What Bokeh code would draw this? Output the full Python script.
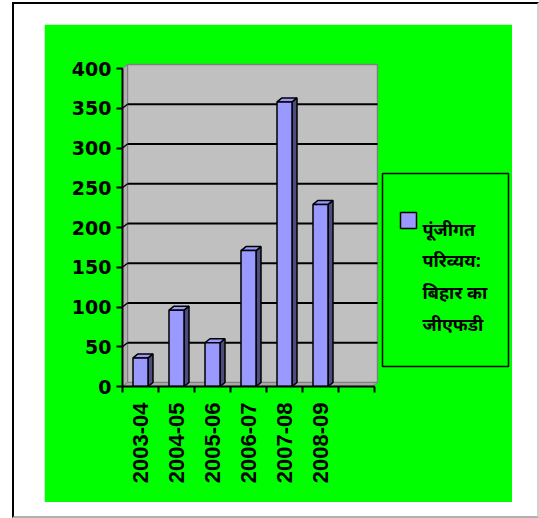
import math
from bokeh.plotting import figure
from bokeh.layouts import column
from bokeh.models import Range1d, FixedTicker
from bokeh.core.properties import value
from bokeh.embed import file_html
from bokeh.resources import INLINE

# Capital outlay as share of Bihar's gross fiscal deficit, by year
years = ["2003-04", "2004-05", "2005-06", "2006-07", "2007-08", "2008-09"]
outlay = [36, 96, 55, 171, 358, 229]
y_ticks = [0, 50, 100, 150, 200, 250, 300, 350, 400]
grid_values = [50, 100, 150, 200, 250, 300, 350]
legend_lines = ["पूंजीगत", "परिव्यय:", "बिहार का", "जीएफडी"]

# page geometry (pixels from the page's top-left corner)
PAGE_W, PAGE_H = 539, 518
GX0, GX1, GY0, GY1 = 44, 512, 24, 502          # green chart area
FRAME_L, FRAME_T, FRAME_R, FRAME_B = 122, 60, 510, 386
WALL_R, WALL_T = 377, 64                         # right and top edges of the plot walls
SLOT_PX = 36.0
UNIT_PX = 0.795

n_slots = len(years) + 1
x_start = 0.5
x_end = x_start + (FRAME_R - FRAME_L) / SLOT_PX
y_end = (FRAME_B - FRAME_T) / UNIT_PX


def dx(px):
    """Page pixel column -> x data coordinate."""
    return x_start + (px - FRAME_L) / SLOT_PX


def dy(py):
    """Page pixel row -> y data coordinate."""
    return (FRAME_B - py) / UNIT_PX


wall_right = dx(WALL_R)
wall_top = dy(WALL_T)

# depth offsets of the pseudo-3D walls and columns, in data units
WALL_DX, WALL_DY = 5 / SLOT_PX, 4 / UNIT_PX
BAR_W = 15 / SLOT_PX
BAR_DX, BAR_DY = 5 / SLOT_PX, 4 / UNIT_PX

GREEN = "#00FF00"
BAR_FRONT = "#9999FF"
BAR_SIDE = "#4D4D80"

p = figure(width=GX1 - GX0, height=GY1 - GY0, output_backend="svg", toolbar_location=None,
           x_range=Range1d(x_start, x_end), y_range=Range1d(0, y_end),
           min_border_left=FRAME_L - GX0, min_border_top=FRAME_T - GY0,
           min_border_right=GX1 - FRAME_R, min_border_bottom=GY1 - FRAME_B)
p.border_fill_color = GREEN
p.background_fill_color = GREEN
p.outline_line_color = GREEN
p.outline_line_width = 2
p.xgrid.visible = False
p.ygrid.visible = False

# back wall, side wall and floor
p.quad(left=[x_start + WALL_DX], right=[wall_right], bottom=[WALL_DY], top=[wall_top],
       fill_color="#C0C0C0", line_color="#808080", line_width=1.5)
p.patch([x_start, x_start + WALL_DX, x_start + WALL_DX, x_start],
        [0, WALL_DY, wall_top, wall_top - WALL_DY],
        fill_color="#B0B0B0", line_color="#808080", line_width=1)
p.patch([x_start, wall_right - WALL_DX, wall_right, x_start + WALL_DX],
        [0, 0, WALL_DY, WALL_DY],
        fill_color="#A8A8A8", line_color="#808080", line_width=1)

# gridlines on the back wall, joined to the axis across the side wall
p.segment(x0=[x_start + WALL_DX] * len(grid_values), y0=[g + WALL_DY for g in grid_values],
          x1=[wall_right] * len(grid_values), y1=[g + WALL_DY for g in grid_values],
          line_color="black", line_width=2)
p.segment(x0=[x_start] * len(grid_values), y0=grid_values,
          x1=[x_start + WALL_DX] * len(grid_values), y1=[g + WALL_DY for g in grid_values],
          line_color="black", line_width=1.5)

# 3D columns: side face, top face, front face
centers = [i + 1 for i in range(len(years))]
side_xs, side_ys, top_xs, top_ys = [], [], [], []
for c, v in zip(centers, outlay):
    l, r = c - BAR_W / 2, c + BAR_W / 2
    side_xs.append([r, r + BAR_DX, r + BAR_DX, r])
    side_ys.append([0, BAR_DY, v + BAR_DY, v])
    top_xs.append([l, r, r + BAR_DX, l + BAR_DX])
    top_ys.append([v, v, v + BAR_DY, v + BAR_DY])
p.patches(side_xs, side_ys, fill_color=BAR_SIDE, line_color="black", line_width=1.5)
p.patches(top_xs, top_ys, fill_color=BAR_FRONT, line_color="black", line_width=1.5)
p.quad(left=[c - BAR_W / 2 for c in centers], right=[c + BAR_W / 2 for c in centers],
       bottom=[0] * len(centers), top=outlay,
       fill_color=BAR_FRONT, line_color="black", line_width=1.5)

# value axis
p.yaxis.ticker = FixedTicker(ticks=y_ticks)
p.yaxis.bounds = (0, 400)
p.yaxis.axis_line_color = "black"
p.yaxis.axis_line_width = 2
p.yaxis.major_tick_line_color = "black"
p.yaxis.major_tick_line_width = 2
p.yaxis.major_tick_out = 6
p.yaxis.major_tick_in = 0
p.yaxis.minor_tick_line_color = None
p.yaxis.major_label_standoff = 5
p.yaxis.major_label_text_font = "DejaVu Sans"
p.yaxis.major_label_text_font_style = "bold"
p.yaxis.major_label_text_font_size = "19px"
p.yaxis.major_label_text_color = "black"

# category axis: ticks between slots, labels in the middle of each slot
p.xaxis.ticker = FixedTicker(ticks=centers,
                             minor_ticks=[x_start + i for i in range(n_slots + 1)])
p.xaxis.bounds = (x_start, x_start + n_slots)
p.xaxis.major_label_overrides = {c: y for c, y in zip(centers, years)}
p.xaxis.axis_line_color = "black"
p.xaxis.axis_line_width = 2
p.xaxis.major_tick_out = 0
p.xaxis.major_tick_in = 0
p.xaxis.minor_tick_line_color = "black"
p.xaxis.minor_tick_line_width = 2
p.xaxis.minor_tick_out = 6
p.xaxis.minor_tick_in = 0
p.xaxis.major_label_orientation = math.pi / 2
p.xaxis.major_label_standoff = 10
p.xaxis.major_label_text_font = "Liberation Sans"
p.xaxis.major_label_text_font_style = "bold"
p.xaxis.major_label_text_font_size = "22px"
p.xaxis.major_label_text_color = "black"

# legend: framed box, colour swatch and the wrapped series name
p.quad(left=[dx(382)], right=[dx(508)], top=[dy(173)], bottom=[dy(366)],
       fill_color=GREEN, line_color="black", line_width=1.5)
p.quad(left=[dx(400)], right=[dx(416)], top=[dy(212)], bottom=[dy(228)],
       fill_color=BAR_FRONT, line_color="black", line_width=1.5)
p.text(x=[dx(422)] * len(legend_lines),
       y=[dy(228 + i * 31.7) for i in range(len(legend_lines))],
       text=legend_lines, text_font=value("Noto Sans"), text_font_style="bold",
       text_font_size="18px", text_color="black",
       text_baseline="alphabetic", text_align="left")

# white page around the green chart area, with a thin frame
page = column(p, styles={
    "margin-left": "12px", "margin-top": "2px",
    "border-top": "2px solid #000000", "border-left": "2px solid #000000",
    "border-right": "2px solid #D0D0D0", "border-bottom": "2px solid #B0B0B0",
    "padding": f"{GY0 - 4}px {PAGE_W - 2 - GX1}px {PAGE_H - 2 - GY1}px {GX0 - 14}px",
    "background-color": "white",
})

open("out.html", "w").write(file_html(page, INLINE))
